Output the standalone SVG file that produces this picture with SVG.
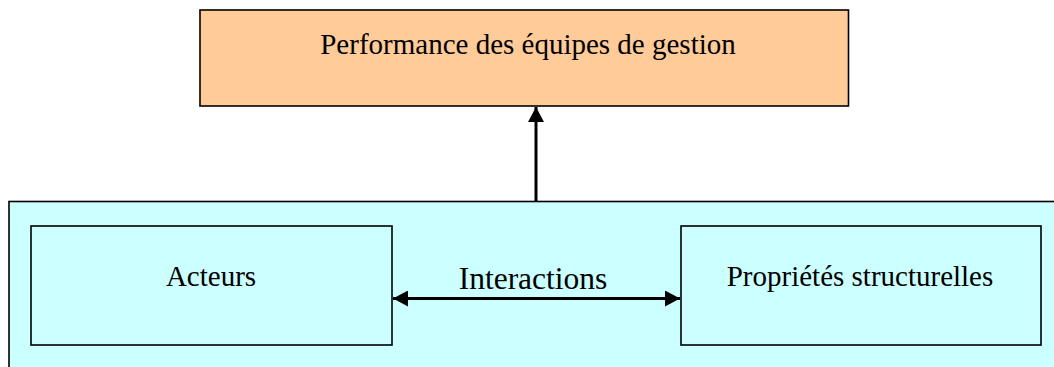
<svg xmlns="http://www.w3.org/2000/svg" width="1054" height="367" viewBox="0 0 1054 367">
  <defs>
    <style>
      .box { stroke: #000; stroke-width: 1.6; }
      .lbl { font-family: "Liberation Serif", "Times New Roman", serif; font-size: 29px; fill: #000; text-anchor: middle; }
      .link { stroke: #000; stroke-width: 3; fill: none; }
    </style>
    <marker id="head" viewBox="0 0 15 16" refX="15" refY="8" markerWidth="15" markerHeight="16" markerUnits="userSpaceOnUse" orient="auto-start-reverse">
      <path d="M0,0 L15,8 L0,16 Z" fill="#000"/>
    </marker>
  </defs>
  <rect width="1054" height="367" fill="#fff"/>

  <g id="systeme">
    <rect class="box" x="9" y="201.5" width="1060" height="180" fill="#ccffff"/>
  </g>

  <g id="performance">
    <rect class="box" x="200" y="10" width="648.5" height="96" fill="#ffcc99"/>
    <text class="lbl" x="528" y="54">Performance des équipes de gestion</text>
  </g>

  <g id="acteurs">
    <rect class="box" x="31" y="226" width="361" height="119" fill="#ccffff"/>
    <text class="lbl" x="211" y="286">Acteurs</text>
  </g>

  <g id="proprietes">
    <rect class="box" x="681" y="226" width="360" height="119" fill="#ccffff"/>
    <text class="lbl" x="860" y="286">Propriétés structurelles</text>
  </g>

  <g id="connectors">
    <line class="link" x1="536" y1="201" x2="536" y2="107" marker-end="url(#head)"/>
    <line class="link" x1="393" y1="298.5" x2="680" y2="298.5" marker-start="url(#head)" marker-end="url(#head)"/>
    <text class="lbl" x="533" y="289" style="font-size:31.5px">Interactions</text>
  </g>
</svg>
